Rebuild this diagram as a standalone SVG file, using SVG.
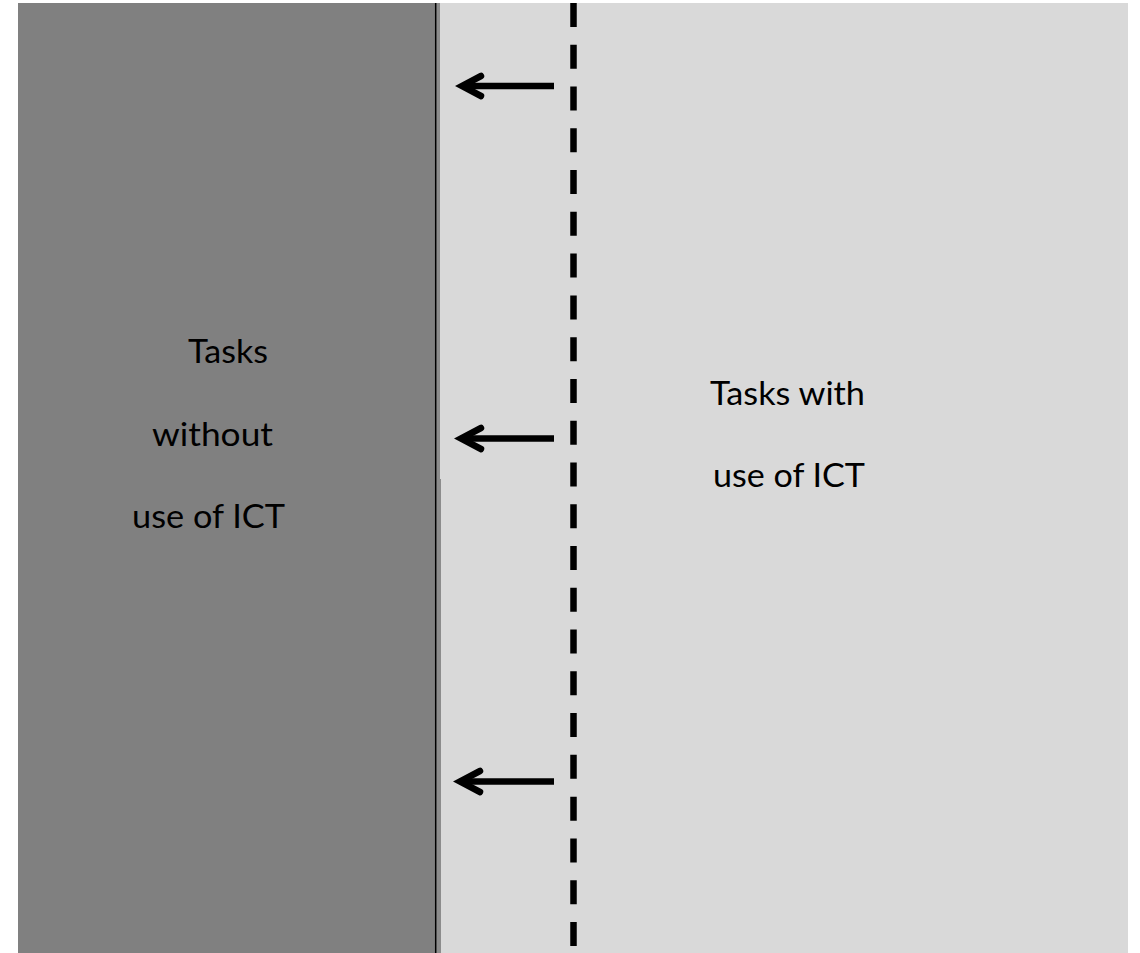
<svg xmlns="http://www.w3.org/2000/svg" width="1140" height="953" viewBox="0 0 1140 953">
  <style>
    .label { font-family: Lato, "Liberation Sans", sans-serif; font-size: 32px; fill: #000; }
    .arrow { fill: none; stroke: #000; stroke-width: 6.5; }
    .arrow .head { stroke-linecap: round; stroke-linejoin: miter; }
  </style>
  <rect width="1140" height="953" fill="#ffffff"/>

  <!-- Area: tasks without ICT -->
  <g id="without-ict">
    <rect x="18" y="3" width="418" height="950" fill="#808080"/>
    <text class="label" x="188" y="363" textLength="80" lengthAdjust="spacingAndGlyphs">Tasks</text>
    <text class="label" x="152" y="446" textLength="121" lengthAdjust="spacingAndGlyphs">without</text>
    <text class="label" x="132" y="528" textLength="153" lengthAdjust="spacingAndGlyphs">use of ICT</text>
  </g>

  <!-- Area: tasks with ICT -->
  <g id="with-ict">
    <rect x="436" y="3" width="692" height="950" fill="#d9d9d9"/>
    <!-- narrow strip along the boundary -->
    <rect x="436" y="3" width="4" height="476" fill="#8c8c8c"/>
    <rect x="436" y="479" width="5" height="474" fill="#8c8c8c"/>
    <text class="label" x="710" y="405" textLength="155" lengthAdjust="spacingAndGlyphs">Tasks with</text>
    <text class="label" x="713" y="487" textLength="152" lengthAdjust="spacingAndGlyphs">use of ICT</text>
  </g>

  <!-- Boundary line -->
  <g id="boundary">
    <line x1="435.7" y1="3" x2="435.7" y2="953" stroke="#000" stroke-width="1.5"/>
  </g>

  <!-- Connectors: dashed shift line and arrows -->
  <g id="connectors">
    <line x1="573.5" y1="3" x2="573.5" y2="953" stroke="#000" stroke-width="6.5" stroke-dasharray="24 17.77"/>
    <g class="arrow">
      <line x1="463" y1="86" x2="554" y2="86"/>
      <polyline class="head" points="481,76 462,86 481,96"/>
    </g>
    <g class="arrow">
      <line x1="462" y1="438.5" x2="554" y2="438.5"/>
      <polyline class="head" points="481,428 461,438.5 481,449"/>
    </g>
    <g class="arrow">
      <line x1="461" y1="781.5" x2="554" y2="781.5"/>
      <polyline class="head" points="480,771 460,781.5 480,792"/>
    </g>
  </g>
</svg>
